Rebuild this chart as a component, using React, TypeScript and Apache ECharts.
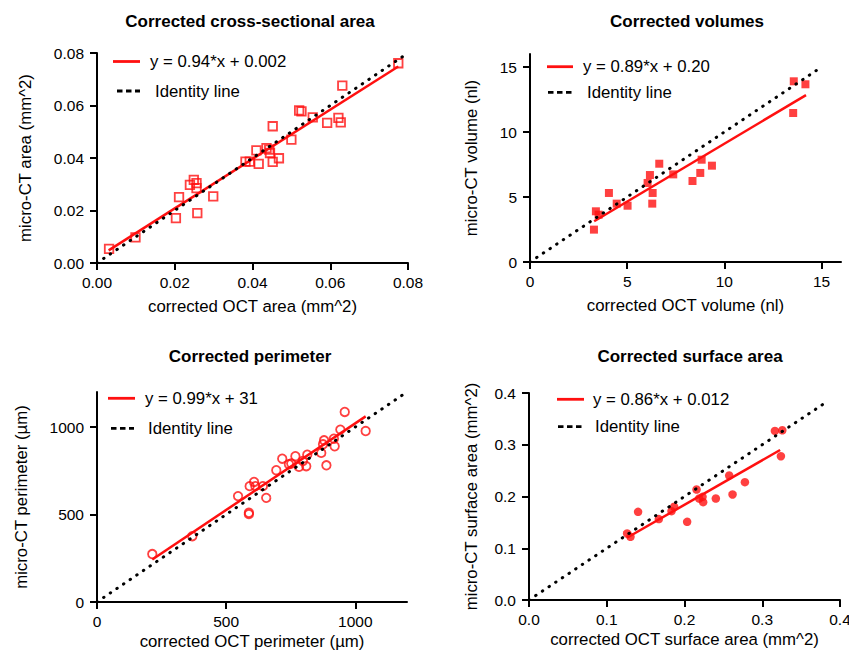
import React, { useEffect, useRef } from "react";
import * as echarts from "echarts";

// ---------- data ----------
const titles = [
  "Corrected cross-sectional area",
  "Corrected volumes",
  "Corrected perimeter",
  "Corrected surface area",
];
const xNames = [
  "corrected OCT area (mm^2)",
  "corrected OCT volume (nl)",
  "corrected OCT perimeter (µm)",
  "corrected OCT surface area (mm^2)",
];
const yNames = [
  "micro-CT area (mm^2)",
  "micro-CT volume (nl)",
  "micro-CT perimeter (µm)",
  "micro-CT surface area (mm^2)",
];
const fitLabels = [
  "y = 0.94*x + 0.002",
  "y = 0.89*x + 0.20",
  "y = 0.99*x + 31",
  "y = 0.86*x + 0.012",
];
const identityLabel = "Identity line";

const axisMax = [0.08, 16, 1200, 0.4];
const tickValues = [
  [0, 0.02, 0.04, 0.06, 0.08],
  [0, 5, 10, 15],
  [0, 500, 1000],
  [0, 0.1, 0.2, 0.3, 0.4],
];
const tickDecimals = [2, 0, 0, 1];

const areaOct = [0.0031, 0.0099, 0.0203, 0.0211, 0.0239, 0.0249, 0.0256, 0.0256, 0.0258, 0.0299, 0.0382, 0.0393, 0.041, 0.0416, 0.0436, 0.0443, 0.0445, 0.0452, 0.0452, 0.0468, 0.05, 0.052, 0.0526, 0.0555, 0.0592, 0.0621, 0.0627, 0.0631, 0.0775];
const areaCt = [0.0054, 0.0098, 0.0171, 0.0251, 0.0298, 0.0317, 0.0304, 0.0285, 0.019, 0.0254, 0.0386, 0.0386, 0.0429, 0.0378, 0.0438, 0.0432, 0.0419, 0.0385, 0.0521, 0.0399, 0.047, 0.0581, 0.0578, 0.0555, 0.0534, 0.0553, 0.0536, 0.0676, 0.0761];

const volOct = [3.29, 3.39, 3.53, 4.06, 4.46, 5.02, 6.05, 6.17, 6.29, 6.31, 6.65, 7.37, 8.36, 8.76, 8.83, 9.36, 13.54, 13.57, 14.17];
const volCt = [2.49, 3.9, 3.64, 5.31, 4.49, 4.33, 6.08, 6.69, 4.49, 5.31, 7.56, 6.74, 6.23, 6.85, 7.87, 7.41, 11.46, 13.9, 13.67];

const perimOct = [214, 369, 546, 588, 588, 591, 608, 613, 642, 655, 694, 717, 743, 752, 768, 782, 797, 810, 814, 868, 875, 879, 888, 917, 920, 942, 959, 1040];
const perimCt = [274, 376, 605, 510, 502, 662, 686, 662, 662, 595, 753, 819, 787, 791, 833, 772, 806, 776, 842, 852, 901, 924, 781, 933, 890, 985, 1086, 977];

const surfOct = [0.1262, 0.1305, 0.1403, 0.167, 0.1833, 0.1867, 0.2034, 0.2155, 0.2189, 0.2232, 0.224, 0.2403, 0.2575, 0.2618, 0.2777, 0.3163, 0.3258, 0.324];
const surfCt = [0.1286, 0.1222, 0.1704, 0.1563, 0.1717, 0.1801, 0.1511, 0.2135, 0.1961, 0.1994, 0.1891, 0.1961, 0.2405, 0.2039, 0.2277, 0.3267, 0.328, 0.2778];

const fitSlope = [0.94, 0.89, 0.99, 0.86];
const fitIntercept = [0.002, 0.2, 31, 0.012];
const fitXStart = [0.003, 3.3, 214, 0.126];
const fitXEnd = [0.0775, 14.2, 1040, 0.323];
const identityEnd = [0.08, 15, 1190, 0.38];

const xs = [areaOct, volOct, perimOct, surfOct];
const ys = [areaCt, volCt, perimCt, surfCt];

// ---------- layout / style ----------
const FONT = "Liberation Sans, Arial, Helvetica, sans-serif";
const RED = "#ff1010";
const grids = [
  { left: 97, top: 53, width: 311, height: 210 },
  { left: 530, top: 54, width: 311, height: 208 },
  { left: 97, top: 392, width: 310, height: 210 },
  { left: 529, top: 393, width: 311, height: 207 },
];
const titlePos = [
  { x: 250, y: 13 },
  { x: 687, y: 13 },
  { x: 250, y: 348 },
  { x: 690, y: 348 },
];
const xNameGap = [35, 35, 31, 31];
const yNameGap = [63, 50, 67, 49];
const legendPos = [
  { l1: [113, 140], y1: 61.5, t1: 150, l2: [117, 140], y2: 91, t2: 155 },
  { l1: [547, 573], y1: 66.7, t1: 583, l2: [548, 572], y2: 92.3, t2: 587 },
  { l1: [108, 135], y1: 398.3, t1: 145, l2: [111, 134], y2: 428.3, t2: 148 },
  { l1: [557, 584], y1: 399.3, t1: 593, l2: [558, 582], y2: 426.7, t2: 595 },
];
const markers = [
  { symbol: "rect", filled: false, size: 8.5 },
  { symbol: "rect", filled: true, size: 8 },
  { symbol: "circle", filled: false, size: 8.5 },
  { symbol: "circle", filled: true, size: 8.5 },
];

export default function App() {
  const ref = useRef<HTMLDivElement>(null);
  useEffect(() => {
    document.body.style.margin = "0";
    if (!ref.current) return;
    const chart = echarts.init(ref.current, undefined, { renderer: "svg" });

    const axisCommon = (i: number) => ({
      gridIndex: i,
      type: "value",
      min: 0,
      max: axisMax[i],
      axisLine: { show: true, onZero: false, lineStyle: { color: "#000", width: 2 } },
      axisTick: {
        show: true,
        length: 7,
        customValues: tickValues[i],
        lineStyle: { color: "#000", width: 2 },
      },
      splitLine: { show: false },
      axisLabel: {
        customValues: tickValues[i],
        color: "#000",
        fontSize: 15.5,
        fontFamily: FONT,
        formatter: (v: number) => v.toFixed(tickDecimals[i]),
      },
      nameLocation: "middle",
      nameTextStyle: { color: "#000", fontSize: 16.8, fontFamily: FONT },
    });

    const xAxis = [0, 1, 2, 3].map((i) => ({
      ...axisCommon(i),
      name: xNames[i],
      nameGap: xNameGap[i],
      axisLabel: { ...axisCommon(i).axisLabel, margin: 11 },
    }));
    const yAxis = [0, 1, 2, 3].map((i) => ({
      ...axisCommon(i),
      name: yNames[i],
      nameGap: yNameGap[i],
      axisLabel: { ...axisCommon(i).axisLabel, margin: 13 },
    }));

    const series: any[] = [];
    [0, 1, 2, 3].forEach((i) => {
      const m = markers[i];
      series.push({
        type: "scatter",
        xAxisIndex: i,
        yAxisIndex: i,
        symbol: m.symbol,
        symbolSize: m.size,
        data: xs[i].map((x, k) => [x, ys[i][k]]),
        itemStyle: m.filled
          ? { color: RED }
          : { color: "rgba(255,255,255,0)", borderColor: RED, borderWidth: 1.8 },
        z: 2,
      });
      series.push({
        type: "line",
        xAxisIndex: i,
        yAxisIndex: i,
        symbol: "none",
        data: [
          [fitXStart[i], fitSlope[i] * fitXStart[i] + fitIntercept[i]],
          [fitXEnd[i], fitSlope[i] * fitXEnd[i] + fitIntercept[i]],
        ],
        lineStyle: { color: RED, width: 2.5 },
        z: 3,
      });
      series.push({
        type: "line",
        xAxisIndex: i,
        yAxisIndex: i,
        symbol: "none",
        data: [
          [0, 0],
          [identityEnd[i], identityEnd[i]],
        ],
        lineStyle: { color: "#000", width: 3, type: [0.5, 7.5], cap: "round" },
        z: 4,
      });
    });

    const graphic: any[] = [];
    legendPos.forEach((p, i) => {
      graphic.push({
        type: "line",
        shape: { x1: p.l1[0], y1: p.y1, x2: p.l1[1], y2: p.y1 },
        style: { stroke: RED, lineWidth: 2.8 },
      });
      graphic.push({
        type: "text",
        x: p.t1,
        y: p.y1,
        style: {
          text: fitLabels[i],
          fill: "#000",
          font: `16.8px ${FONT}`,
          textVerticalAlign: "middle",
          verticalAlign: "middle",
        },
      });
      graphic.push({
        type: "line",
        shape: { x1: p.l2[0], y1: p.y2, x2: p.l2[1], y2: p.y2 },
        style: { stroke: "#000", lineWidth: 2.8, lineDash: [5.5, 3.5] },
      });
      graphic.push({
        type: "text",
        x: p.t2,
        y: p.y2,
        style: {
          text: identityLabel,
          fill: "#000",
          font: `16.8px ${FONT}`,
          textVerticalAlign: "middle",
          verticalAlign: "middle",
        },
      });
    });

    chart.setOption({
      animation: false,
      backgroundColor: "#fff",
      title: titles.map((t, i) => ({
        text: t,
        left: titlePos[i].x,
        top: titlePos[i].y,
        textAlign: "center",
        padding: 0,
        textStyle: { color: "#000", fontSize: 17, fontWeight: "bold", fontFamily: FONT },
      })),
      grid: grids.map((g) => ({ ...g, containLabel: false, outerBoundsMode: "none" })),
      xAxis,
      yAxis,
      series,
      graphic,
    });
    return () => chart.dispose();
  }, []);
  return <div ref={ref} style={{ width: 849, height: 655 }} />;
}
